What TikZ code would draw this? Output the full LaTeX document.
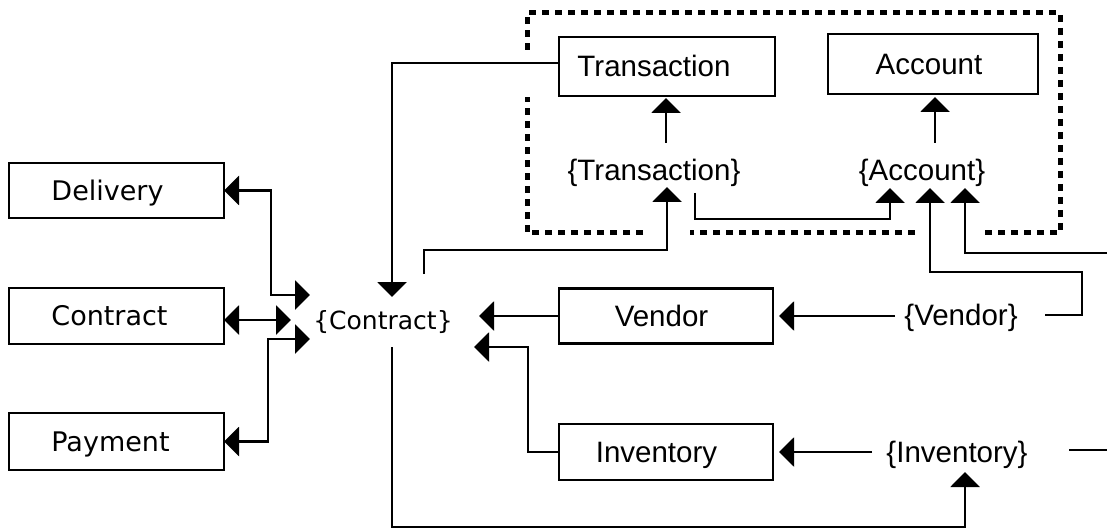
\documentclass[tikz,border=0pt]{standalone}
\usepackage{fontspec}
\setmainfont{DejaVu Sans}
\newfontfamily\rfont{Liberation Sans}
\usetikzlibrary{arrows.meta}
\begin{document}
\begin{tikzpicture}[x=1pt,y=-1pt,
  every node/.style={inner sep=0pt, outer sep=0pt},
  box/.style={draw, line width=2.3pt, rectangle},
  lft/.style={font=\fontsize{25}{30}\selectfont, text height=18pt, text depth=0pt},
  lbox/.style={font=\fontsize{27}{32}\selectfont, text height=19.5pt, text depth=0pt},
  rgt/.style={font=\rfont\fontsize{29.5}{34}\selectfont, text height=21pt, text depth=0pt},
  ln/.style={line width=2.3pt},
  conn/.style={ln, -{Triangle[length=15pt,width=29pt]}},
  dconn/.style={ln, {Triangle[length=15pt,width=29pt]}-{Triangle[length=15pt,width=29pt]}},
  dbox/.style={line width=5pt, dash pattern=on 7pt off 6pt}]
\useasboundingbox (0,0) rectangle (1107,529);

% dashed frame
\draw[dbox] (527,50) -- (527,13) -- (1060,13) -- (1060,233) -- (983,233);
\draw[dbox] (915,233) -- (690,233);
\draw[dbox] (643,233) -- (527,233) -- (527,97);

% boxes
\node[box, lbox, minimum width=215pt, minimum height=55pt] (del) at (116.5,190.5) {Delivery\kern18pt};
\node[box, lbox, minimum width=215pt, minimum height=56pt] (con) at (116.5,316) {Contract\kern14pt};
\node[box, lbox, minimum width=215pt, minimum height=57pt] (pay) at (116.5,441.5) {Payment\kern12pt};
\node[box, rgt, minimum width=216pt, minimum height=59pt] (trn) at (667,66.5) {Transaction\kern26pt};
\node[box, rgt, minimum width=210pt, minimum height=60pt] (acc) at (933,64) {Account\kern8pt};
\node[box, rgt, minimum width=214pt, minimum height=55pt] (ven) at (666,316) {Vendor\kern9pt};
\node[box, rgt, minimum width=214pt, minimum height=56pt] (inv) at (666,452) {Inventory\kern19pt};

% set labels
\node[lft] (cset) at (383,320) {\{Contract\}};
\node[rgt] (tset) at (654,170) {\{Transaction\}};
\node[rgt] (aset) at (922,170) {\{Account\}};
\node[rgt] (vset) at (961,315) {\{Vendor\}};
\node[rgt] (iset) at (957,452) {\{Inventory\}};

% connector end points
\coordinate (cD) at (310,295);
\coordinate (cC) at (291,320);
\coordinate (cP) at (310,339);
\coordinate (cTop) at (392,297);
\coordinate (cBot) at (392,347);
\coordinate (cV) at (479,316);
\coordinate (cI) at (474,347);
\coordinate (cT) at (424,274);
\coordinate (tTip) at (667,187);
\coordinate (tS) at (695,193);
\coordinate (tUp) at (666,143);
\coordinate (aUp) at (935,143);
\coordinate (aA1) at (890,188);
\coordinate (aA2) at (930,188);
\coordinate (aA3) at (965,188);
\coordinate (vR) at (1045,315);
\coordinate (vL) at (895,316);
\coordinate (vTip) at (779,316);
\coordinate (eR) at (1107,253);
\coordinate (iL) at (872,452);
\coordinate (iTip) at (779,452);
\coordinate (iR) at (1069,450);
\coordinate (eI) at (1107,450);
\coordinate (iA) at (965,472);
\coordinate (yb) at (0,527);

% left side
\draw[dconn] (del.east) -- ++(47,0) |- (cD);
\draw[dconn] (con.east |- cC) -- (cC);
\draw[dconn] (pay.east) -- ++(44,0) |- (cP);

% top
\draw[conn] ([yshift=3.5pt]trn.west) -| (cTop);
\draw[conn] (tUp) -- ([yshift=-2pt]tUp |- trn.south);
\draw[conn] (aUp) -- ([yshift=-3pt]aUp |- acc.south);
\draw[conn] (cT) -- ++(0,-24) -| (tTip);
\draw[conn] (tS) -- ++(0,26) -| (aA1);
\draw[conn] (vR) -- ++(37,0) -- ++(0,-43) -| (aA2);
\draw[conn] (eR) -| (aA3);

% middle
\draw[conn] (vL) -- (vTip);
\draw[conn] (ven.west) -- (cV);
\draw[conn] (inv.west) -- ++(-31,0) |- (cI);
\draw[conn] (iL) -- (iTip);
\draw[ln] (iR) -- (eI);
\draw[conn] (cBot) -- (cBot |- yb) -| (iA);
\end{tikzpicture}
\end{document}
